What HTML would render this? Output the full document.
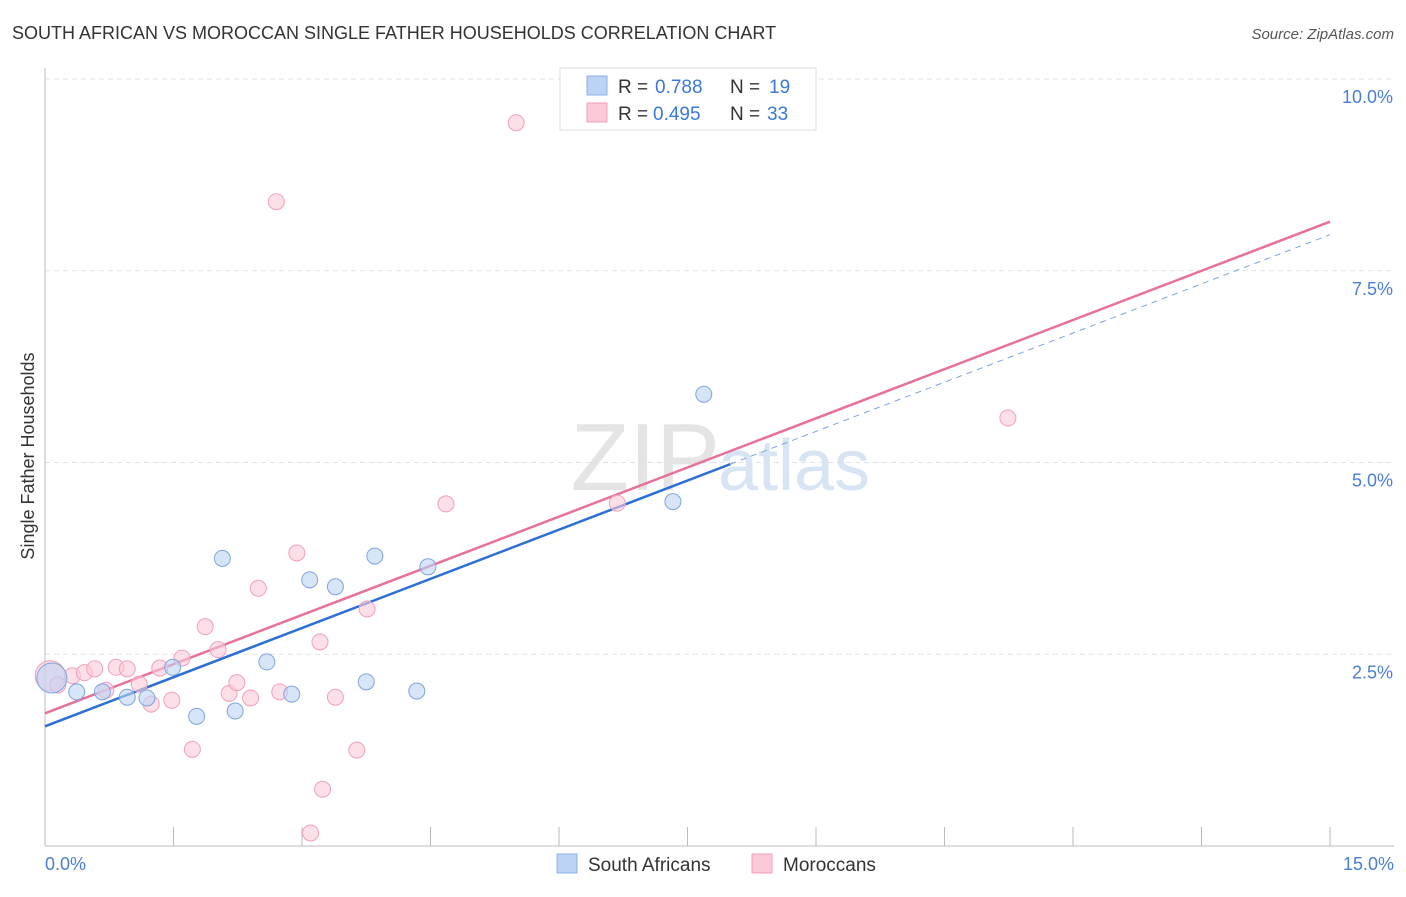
<!DOCTYPE html>
<html><head><meta charset="utf-8"><style>
body{margin:0;background:#fff;font-family:"Liberation Sans",sans-serif}
svg text{font-family:"Liberation Sans",sans-serif}
</style></head><body>
<svg id="c" width="1406" height="892" xmlns="http://www.w3.org/2000/svg">
<text x="12" y="39" font-size="18" fill="#333">SOUTH AFRICAN VS MOROCCAN SINGLE FATHER HOUSEHOLDS CORRELATION CHART</text>
<text x="1394" y="39" font-size="15" fill="#555" font-style="italic" text-anchor="end">Source: ZipAtlas.com</text>
<text x="720" y="490" font-size="96" fill="#e4e4e4" text-anchor="end" font-family="Liberation Serif">ZIP</text>
<text x="718" y="490" font-size="72" fill="#d6e4f4">atlas</text>
<g id="grid"></g><g id="axes"></g><g id="lines"></g><g id="pts"></g>
<text transform="translate(34,456) rotate(-90)" font-size="18" fill="#333" text-anchor="middle">Single Father Households</text>
<text x="45" y="870" font-size="18" fill="#4a7fd4">0.0%</text>
<text x="1394" y="870" font-size="18" fill="#4a7fd4" text-anchor="end">15.0%</text>
<g>
<rect x="560" y="68" width="256" height="62" fill="#fff" stroke="#ddd"/>
<rect x="587" y="76" width="20" height="19" fill="#bcd3f5" stroke="#8eb0e8"/>
<rect x="587" y="103" width="20" height="19" fill="#fbc9d8" stroke="#f0a0bb"/>
<text x="618" y="93" font-size="19" fill="#333">R = </text><text x="655" y="93" font-size="19" fill="#3a78d8">0.788</text>
<text x="730" y="93" font-size="19" fill="#333">N = </text><text x="769" y="93" font-size="19" fill="#3a78d8">19</text>
<text x="618" y="120" font-size="19" fill="#333">R = </text><text x="653" y="120" font-size="19" fill="#3a78d8">0.495</text>
<text x="730" y="120" font-size="19" fill="#333">N = </text><text x="767" y="120" font-size="19" fill="#3a78d8">33</text>
</g>
<g>
<rect x="557" y="854" width="20" height="19" fill="#bcd3f5" stroke="#8eb0e8"/>
<text x="588" y="871" font-size="19" fill="#333">South Africans</text>
<rect x="752" y="854" width="20" height="19" fill="#fbc9d8" stroke="#f0a0bb"/>
<text x="783" y="871" font-size="19" fill="#333">Moroccans</text>
</g>
</svg>
<script>
const yTicks=[2.5,5.0,7.5,10.0];
const yTickLabels=["2.5%","5.0%","7.5%","10.0%"];
const xTicks=[0,1.5,3,4.5,6,7.5,9,10.5,12,13.5,15];
const saX=[0.08,0.37,0.67,0.96,1.19,1.49,1.77,2.07,2.22,2.59,2.88,3.09,3.39,3.75,3.85,4.34,4.47,7.33,7.69];
const saY=[2.19,2.01,2.01,1.94,1.93,2.33,1.69,3.75,1.76,2.40,1.98,3.47,3.38,2.14,3.78,2.02,3.64,4.49,5.89];
const moX=[0.06,0.15,0.32,0.46,0.58,0.71,0.83,0.96,1.10,1.24,1.34,1.48,1.60,1.72,1.87,2.02,2.15,2.24,2.40,2.49,2.70,2.74,2.94,3.10,3.21,3.24,3.39,3.64,3.76,4.68,5.50,6.68,11.24];
const moY=[2.22,2.10,2.22,2.26,2.31,2.03,2.33,2.31,2.11,1.85,2.32,1.90,2.45,1.26,2.86,2.56,1.99,2.13,1.93,3.36,8.40,2.01,3.82,0.17,2.66,0.74,1.94,1.25,3.09,4.46,9.43,4.47,5.58];
const saTrend=[1.56,7.97]; // y at x=0 and x=15
const moTrend=[1.73,8.14];
const saSolidEnd=8.0;
const X=v=>45+v*(1330-45)/15;
const Y=v=>846-v*76.7;
const NS="http://www.w3.org/2000/svg";
function mk(p,t,a){const e=document.createElementNS(NS,t);for(const k in a)e.setAttribute(k,a[k]);document.getElementById(p).appendChild(e);return e;}
yTicks.forEach((t,i)=>{
 const l=mk('grid','line',{x1:45,x2:1394,y1:Y(t),y2:Y(t),stroke:'#e2e2e2','stroke-dasharray':'5,4'});
 
 
 const tx=mk('grid','text',{x:1393,y:Y(t)+24,'font-size':18,fill:'#4a7fd4','text-anchor':'end'});
 tx.textContent=yTickLabels[i];
 
 
});
const ax=mk('axes','line',{x1:45,x2:1394,y1:846,y2:846,stroke:'#bbb'});


const ay=mk('axes','line',{x1:45,x2:45,y1:68,y2:846,stroke:'#bbb'});


xTicks.forEach(t=>{
 const l=mk('axes','line',{x1:X(t),x2:X(t),y1:827,y2:846,stroke:'#bbb'});
 
 
});
const ty=(tr,x)=>tr[0]+(tr[1]-tr[0])*x/15;
let l1=mk('lines','line',{x1:X(0),y1:Y(ty(saTrend,0)),x2:X(saSolidEnd),y2:Y(ty(saTrend,saSolidEnd)),stroke:'#2b6fd6','stroke-width':2.5});


let l2=mk('lines','line',{x1:X(saSolidEnd),y1:Y(ty(saTrend,saSolidEnd)),x2:X(15),y2:Y(ty(saTrend,15)),stroke:'#7aa3e0','stroke-width':1,'stroke-dasharray':'6,5'});


let l3=mk('lines','line',{x1:X(0),y1:Y(ty(moTrend,0)),x2:X(15),y2:Y(ty(moTrend,15)),stroke:'#e8709a','stroke-width':2.5});


moX.forEach((x,i)=>{
 const c=mk('pts','circle',{cx:X(x),cy:Y(moY[i]),r:i==0?15:8,fill:'#fbc9d8','fill-opacity':0.6,stroke:'#f0a0bb','stroke-width':1});
 
 
});
saX.forEach((x,i)=>{
 const c=mk('pts','circle',{cx:X(x),cy:Y(saY[i]),r:i==0?15:8,fill:'#bcd3f5','fill-opacity':0.6,stroke:'#7ea4e0','stroke-width':1});
 
 
});
</script>
</body></html>
